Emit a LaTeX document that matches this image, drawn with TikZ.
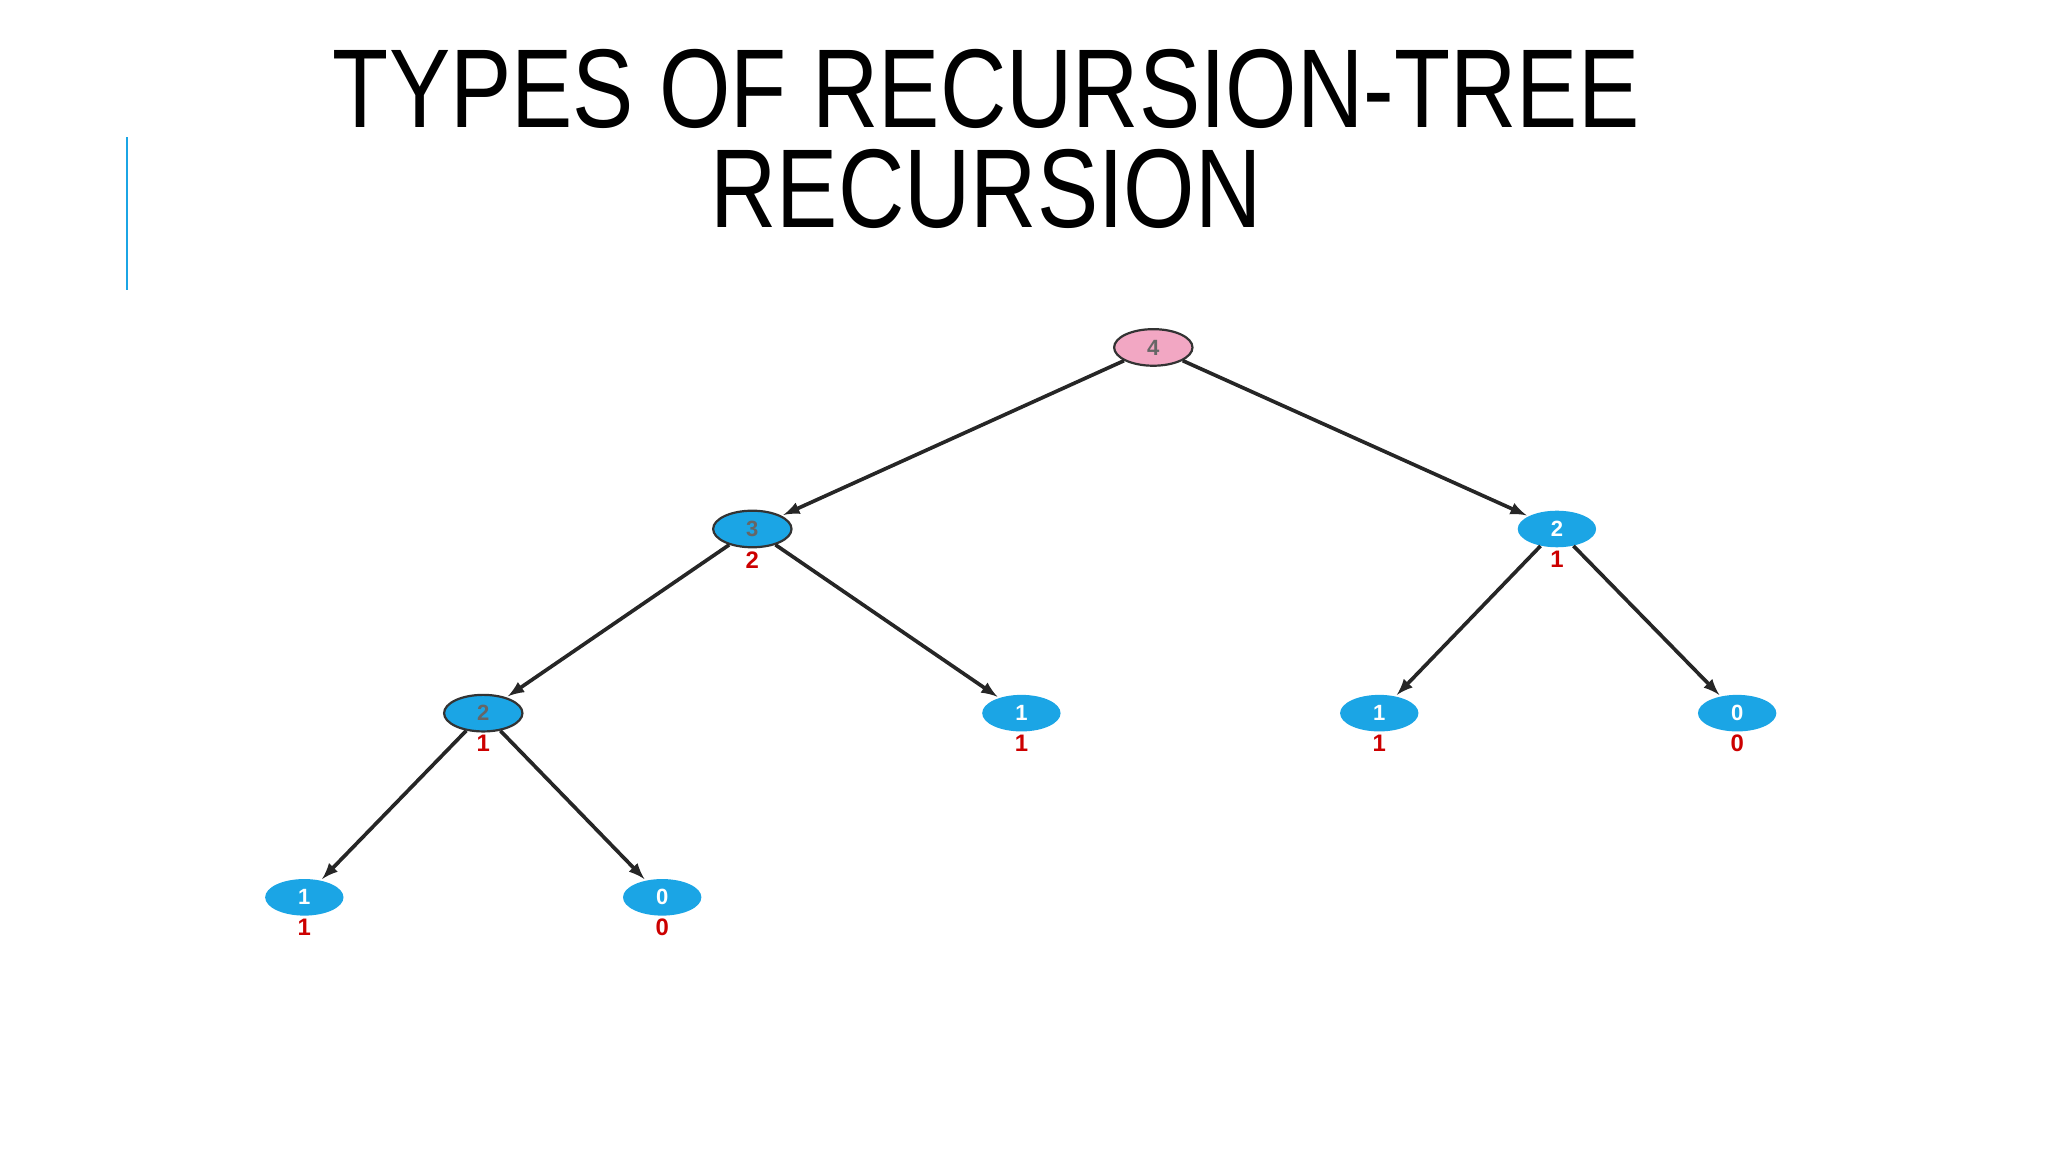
\documentclass[tikz,border=0pt]{standalone}
\usepackage{fontspec}
\setmainfont{Liberation Sans}
\usetikzlibrary{shapes.geometric}
\definecolor{nblue}{HTML}{1BA5E5}
\definecolor{npink}{HTML}{F2A7C3}
\begin{document}
\begin{tikzpicture}[x=0.25mm,y=-0.25mm,
  nd/.style={ellipse,minimum width=15mm,minimum height=7mm,inner sep=0pt,fill=nblue,font=\fontsize{12}{12}\selectfont\bfseries,text=white},
  ndo/.style={nd,draw=black!80,line width=1.2pt,text=black!60},
  rootn/.style={ndo,fill=npink},
  lab/.style={text=red!80!black,font=\fontsize{13}{13}\selectfont\bfseries},
  ttl/.style={inner sep=0pt,font=\fontsize{61}{61}\selectfont},
  edge/.style={-latex,line width=2pt,draw=black!85,shorten >=1pt}]
\useasboundingbox (0,0) rectangle (1568,882);
\draw[nblue,line width=1.2pt] (97,105) -- (97,222);
\node[ttl] (t1) at (755,68) {\scalebox{0.82}[1]{TYPES OF RECURSION-TREE}};
\node[ttl] (t2) at (755,145) {\scalebox{0.82}[1]{RECURSION}};
\node[rootn] (r) at (883,266) {4};
\node[ndo] (a) at (576,405) {3};
\node[nd] (b) at (1192,405) {2};
\node[ndo] (c) at (370,546) {2};
\node[nd] (d) at (782,546) {1};
\node[nd] (e) at (1056,546) {1};
\node[nd] (f) at (1330,546) {0};
\node[nd] (g) at (233,687) {1};
\node[nd] (h) at (507,687) {0};
\foreach \n/\t in {a/2,b/1,c/1,d/1,e/1,f/0,g/1,h/0}
  \node[lab,anchor=north,inner sep=0pt] (l\n) at ([yshift=-0.5mm]\n.south) {\t};
\draw[edge] (r) -- (a);
\draw[edge] (r) -- (b);
\draw[edge] (a) -- (c);
\draw[edge] (a) -- (d);
\draw[edge] (b) -- (e);
\draw[edge] (b) -- (f);
\draw[edge] (c) -- (g);
\draw[edge] (c) -- (h);
\end{tikzpicture}
\end{document}
